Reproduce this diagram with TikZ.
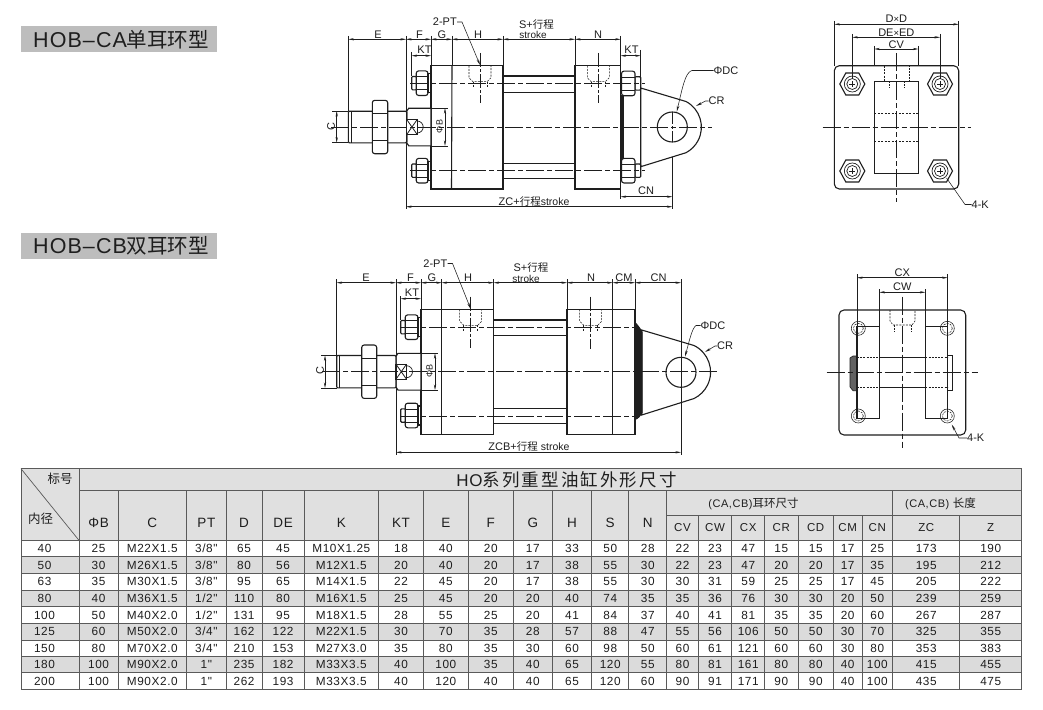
\documentclass[tikz,border=0pt]{standalone}
\usepackage{fontspec}
\setmainfont{Liberation Sans}
\newfontfamily\spf[LetterSpace=5]{Liberation Sans}
\newfontfamily\cjk{Noto Sans CJK SC}
\newfontfamily\cjkw[LetterSpace=12]{Noto Sans CJK SC}
\usetikzlibrary{arrows.meta,calc}
\definecolor{tgray}{HTML}{E0E0E0}
\definecolor{rgray}{HTML}{DBDBDB}
\definecolor{bargray}{HTML}{BDBDBD}
\definecolor{tline}{HTML}{5A5A5A}
\definecolor{ink}{HTML}{1E1E1E}
\tikzset{
  part/.style={draw=ink,line width=1.1pt,fill=white},
  heavy/.style={draw=ink,line width=1.1pt},
  thinl/.style={draw=ink,line width=0.45pt},
  centre/.style={draw=ink,line width=0.5pt,dash pattern=on 18pt off 3pt on 5pt off 3pt},
  hidden/.style={draw=ink,line width=0.55pt,dash pattern=on 2pt off 1.2pt},
  dimn/.style={draw=ink,line width=0.45pt,{Stealth[length=5.5pt,width=2.2pt]}-{Stealth[length=5.5pt,width=2.2pt]}},
  lead/.style={draw=ink,line width=0.55pt,-{Stealth[length=6pt,width=2.4pt]}},
  lbl/.style={inner sep=0pt,font=\fontsize{11}{11}\selectfont,text=ink},
  small/.style={inner sep=0pt,font=\fontsize{10}{10}\selectfont,text=ink},
  cell/.style={inner sep=0pt,text height=8.3pt,text depth=0pt,anchor=center,font=\spf\fontsize{11.8}{11}\selectfont,text=ink},
  head/.style={inner sep=0pt,anchor=center,font=\spf\fontsize{13.5}{13}\selectfont,text=ink},
  sub/.style={inner sep=0pt,anchor=center,font=\spf\fontsize{11.5}{12}\selectfont,text=ink},
  banner/.style={fill=bargray,draw=none},
  tl/.style={draw=tline,line width=0.7pt}
}
% hex nut in side view: #1 left x, #2 right x, #3 centre y, #4 half height, #5 inner half height
\newcommand{\sidenut}[5]{
  \draw[part,rounded corners=2.5pt] (#1,#3-#4) rectangle (#2,#3+#4);
  \draw[heavy,line width=0.8pt] (#1,#3-#5) -- (#2,#3-#5) (#1,#3+#5) -- (#2,#3+#5);
}
% bolt head of the left side: #1 left x, #2 block x, #3 centre y
\newcommand{\leftbolt}[3]{
  \draw[part,rounded corners=1pt] (#1,#3-6.7) rectangle (#1+5,#3+6.7);
  \sidenut{#1+4.5}{#2-3}{#3}{12.3}{6.5}
  \draw[part] (#2-3,#3-9.5) rectangle (#2,#3+9.5);
}
% nut of the right side, with the bolt end
\newcommand{\rightbolt}[1]{
  \draw[part,rounded corners=1pt] (635,#1-6.7) rectangle (640.7,#1+6.7);
  \sidenut{621.5}{635}{#1}{12.3}{6.5}
}
% rod end with lock nut: #1 thread left, #2 nut left, #3 nut right, #4 neck left, #5 block x, #6 centre y, #7 half thread, #8 half nut, #9 half neck
\newcommand{\rodend}[9]{
  \draw[part] (#4+2,#6-#9) -- (#5,#6-#9) -- (#5,#6+#9) -- (#4+2,#6+#9) -- (#4,#6+#9-3) -- (#4,#6-#9+3) -- cycle;
  \draw[part,rounded corners=1pt] (#1,#6-#7) rectangle (#4,#6+#7);
  \draw[heavy,line width=0.7pt] (#1+2.8,#6-#7) -- (#1+2.8,#6+#7);
  \sidenut{#2}{#3}{#6}{#8}{0.5*#8}
  \draw[part] (#4,#6-7.5) rectangle (#4+10.5,#6+7.5);
  \draw[heavy,line width=0.8pt] (#4,#6-7.5) -- (#4+10.5,#6+7.5) (#4,#6+7.5) -- (#4+10.5,#6-7.5);
  \draw[heavy,line width=0.7pt] (#4+10.5,#6-6) arc[start angle=-90,end angle=90,radius=6];
}
% end-view bolt
\newcommand{\hexbolt}[3]{
  \begin{scope}[shift={(#1,#2)}]
    \draw[part] (-12.5,0) -- (-6.5,-11) -- (6.5,-11) -- (12.5,0) -- (6.5,11) -- (-6.5,11) -- cycle;
    \draw[heavy,line width=0.7pt] (0,0) circle (8);
    \draw[heavy,line width=0.7pt] (0,0) circle (#3);
    \draw[thinl] (-3,0) -- (3,0) (0,-3) -- (0,3);
  \end{scope}
}
% tapped port, hidden lines
\newcommand{\portshape}[2]{
  \draw[hidden] (#1-11,#2) -- (#1-11,#2+12) -- (#1-7,#2+16) -- (#1+7,#2+16) -- (#1+11,#2+12) -- (#1+11,#2);
  \draw[hidden] (#1-7,#2+16) -- (#1-7,#2+22) (#1+7,#2+16) -- (#1+7,#2+22);
}
\begin{document}
\begin{tikzpicture}[x=1pt,y=-1pt]
\useasboundingbox (0,0) rectangle (1043,709);
\fill[white] (0,0) rectangle (1043,709);

% ---------- section titles
\fill[banner] (21,26) rectangle (217,52);
\node[inner sep=0pt,anchor=west,text=ink] (titleA) at (33,39.5) {\spf\fontsize{21.5}{21}\selectfont HOB–CA{\cjk\fontsize{20.5}{20}\selectfont 单耳环型}};
\fill[banner] (21,232.5) rectangle (217,259.3);
\node[inner sep=0pt,anchor=west,text=ink] (titleB) at (33,246) {\spf\fontsize{21.5}{21}\selectfont HOB–CB{\cjk\fontsize{20.5}{20}\selectfont 双耳环型}};

% ========== CA side view
\begin{scope}
  % extension lines
  \draw[thinl] (348.3,36) -- (348.3,111) (406,36) -- (406,209) (431,36) -- (431,66) (452,36) -- (452,66)
    (503,36) -- (503,66) (575,36) -- (575,66) (620.7,36) -- (620.7,66) (411.7,52) -- (411.7,76)
    (640.7,50) -- (640.7,78) (620.7,189) -- (620.7,199) (672.3,127) -- (672.3,209);
  % rods
  \draw[part] (503,76) rectangle (575,92.7);
  \draw[part] (503,163.3) rectangle (575,178.3);
  % clevis
  \draw[part] (640.7,88) -- (686,101.5) arc[start angle=-62,end angle=62,radius=29] -- (640.7,166.7) -- cycle;
  \draw[heavy] (672.3,127) circle (15);
  % black bar
  \fill[ink] (620.7,95) rectangle (624,160);
  % blocks
  \draw[part] (431,65.7) rectangle (503,189);
  \draw[heavy] (452,65.7) -- (451.5,189);
  \draw[part] (575,65.7) rectangle (620.7,189);
  % bolts
  \rightbolt{83.4}
  \rightbolt{170.7}
  \leftbolt{411.7}{431}{83.2}
  \leftbolt{411.7}{431}{170.7}
  % rod end
  \rodend{348.3}{372.3}{387.7}{406.7}{431}{127}{15.8}{26.7}{18.8}
  % centre lines
  \draw[centre] (331,127) -- (712,127);
  \draw[centre] (410,83.3) -- (645,83.3);
  \draw[centre] (410,170.7) -- (645,170.7);
  \draw[centre,dash pattern=on 14pt off 2pt on 3pt off 2pt] (480,53) -- (480,103);
  \draw[centre,dash pattern=on 14pt off 2pt on 3pt off 2pt] (598.3,53) -- (598.3,103);
  \draw[centre,dash pattern=on 12pt off 2pt on 3pt off 2pt] (672.3,112) -- (672.3,142);
  \portshape{480}{65.7}
  \portshape{598.3}{65.7}
  % C and phi-B dimensions
  \draw[thinl] (332,111) -- (348.3,111) (332,142.7) -- (348.3,142.7);
  \draw[dimn] (336.7,111) -- (336.7,142.7);
  \node[lbl,rotate=90] (caC) at (331,126.5) {C};
  \draw[thinl] (431,108.2) -- (448,108.2) (431,145.8) -- (448,145.8);
  \draw[dimn] (445,108.2) -- (445,145.8);
  \node[small,font=\fontsize{9}{9}\selectfont,rotate=90] (caB) at (439.5,126.5) {ΦB};
  % dimension chain
  \draw[dimn] (348.3,39.3) -- (406,39.3);
  \draw[dimn] (406,39.3) -- (431,39.3);
  \draw[dimn] (431,39.3) -- (452,39.3);
  \draw[dimn] (452,39.3) -- (503,39.3);
  \draw[dimn] (503,39.3) -- (575,39.3);
  \draw[dimn] (575,39.3) -- (620.7,39.3);
  \draw[dimn] (411.7,55.7) -- (431,55.7);
  \draw[dimn] (620.7,55.7) -- (640.7,55.7);
  \draw[dimn] (620.7,196.7) -- (672.3,196.7);
  \draw[dimn] (406,206.7) -- (672.3,206.7);
  \node[lbl] (caE) at (378,34.5) {E};
  \node[lbl] (caF) at (419.5,34.5) {F};
  \node[lbl] (caG) at (442,34.5) {G};
  \node[lbl] (caH) at (478,34.5) {H};
  \node[lbl] (caS) at (536.5,24.5) {S+{\cjk\fontsize{10.5}{10}\selectfont 行程}};
  \node[small] (caSt) at (533,35) {stroke};
  \node[lbl] (caN) at (598,34.5) {N};
  \node[lbl] (caKT) at (424.5,49.5) {KT};
  \node[lbl] (caKT2) at (631.5,49.5) {KT};
  \node[lbl] (caCN) at (646,191) {CN};
  \node[lbl,anchor=center] (caZC) at (534,201.5) {ZC+{\cjk\fontsize{10.5}{10}\selectfont 行程}{\fontsize{10.5}{10}\selectfont stroke}};
  \node[lbl,anchor=east] (caPT) at (457,22) {2-PT};
  \draw[lead] (caPT.east) -- ++(5,0) -- (480,65);
  \node[lbl,anchor=west] (caDC) at (713.5,70.5) {ΦDC};
  \draw[lead] (caDC.west) -- (692,70.5) .. controls (685,72) and (682,90) .. (676.7,111.7);
  \node[lbl,anchor=west] (caCR) at (708.5,101) {CR};
  \draw[lead] (caCR.west) -- ++(-3,0) -- (696,106);
\end{scope}

% ========== CA end view
\begin{scope}
  \draw[thinl] (834.3,21) -- (834.3,66) (958.7,21) -- (958.7,66) (852.3,34) -- (852.3,66) (940,34) -- (940,66)
    (874.3,46) -- (874.3,82) (918.3,46) -- (918.3,82);
  \draw[part,rounded corners=5pt] (834.3,65.7) rectangle (958.7,189);
  \draw[part] (874.3,81.7) rectangle (918.3,173.3);
  \draw[hidden] (884.3,66) -- (884.3,81) -- (909,81) -- (909,66) (889,81) -- (889,88) (904,81) -- (904,88);
  \draw[hidden,dash pattern=on 2pt off 1.5pt] (874.3,113.3) -- (918.3,113.3) (874.3,141.7) -- (918.3,141.7);
  \hexbolt{852.3}{84}{5.5}
  \hexbolt{940}{84}{5.5}
  \hexbolt{852.3}{171}{5.5}
  \hexbolt{940}{171}{5.5}
  \draw[thinl] (852.3,60) -- (852.3,79) (940,60) -- (940,79);
  \draw[centre] (822.7,127) -- (970.7,127);
  \draw[centre] (896.3,53.3) -- (896.3,201.7);
  \draw[dimn] (834.3,24.3) -- (958.7,24.3);
  \draw[dimn] (852.3,37.3) -- (940,37.3);
  \draw[dimn] (874.3,49) -- (918.3,49);
  \node[lbl] (caDD) at (896.3,19) {D{\fontsize{9.5}{9}\selectfont ×}D};
  \node[lbl] (caDE) at (896.3,32.3) {DE{\fontsize{9.5}{9}\selectfont ×}ED};
  \node[lbl] (caCV) at (896.3,44.5) {CV};
  \node[lbl,anchor=west] (ca4K) at (971.5,204.5) {4-K};
  \draw[lead,-] (ca4K.west) -- (965,204.5) -- (946.5,178);
\end{scope}

% ========== CB side view
\begin{scope}
  \draw[thinl] (336.7,279) -- (336.7,355) (396,279) -- (396,455) (421,279) -- (421,310) (441.7,279) -- (441.7,310)
    (493.7,279) -- (493.7,310) (567,279) -- (567,310) (612.7,279) -- (612.7,310) (635,279) -- (635,310)
    (681,279) -- (681,455) (400.7,296) -- (400.7,320);
  % rods
  \draw[part] (493.7,320) rectangle (567,335.3);
  \draw[part] (493.7,408.3) rectangle (567,423.7);
  % clevis
  \draw[part] (641.7,330) -- (694,345.5) arc[start angle=-64,end angle=64,radius=29.5] -- (641.7,415) -- cycle;
  \draw[thinl] (681,279) -- (681,455);
  \draw[heavy] (681,372.3) circle (15);
  % black taper
  \fill[ink] (635,321.7) .. controls (639,326) and (641,329) .. (642.5,332) -- (642.5,413) .. controls (641,415) and (639,419) .. (635,420) -- cycle;
  % blocks
  \draw[part] (421,309.3) rectangle (493.7,434.3);
  \draw[heavy] (441.7,309.3) -- (441.7,434.3);
  \draw[part] (567,309.3) rectangle (635,434.3);
  \draw[heavy] (612.7,309.3) -- (612.7,434.3);
  % bolts
  \leftbolt{400.7}{421}{327.2}
  \leftbolt{400.7}{421}{415.5}
  % rod end
  \rodend{336.7}{361.7}{376.7}{396}{421}{371.7}{16.2}{26.7}{18.4}
  % centre lines
  \draw[centre] (322,371.7) -- (718,371.7);
  \draw[centre] (400,327.3) -- (636.7,327.3);
  \draw[centre] (400,416) -- (636.7,416);
  \draw[centre,dash pattern=on 14pt off 2pt on 3pt off 2pt] (470.7,296.7) -- (470.7,348);
  \draw[centre,dash pattern=on 14pt off 2pt on 3pt off 2pt] (590.7,296.7) -- (590.7,349);
  \portshape{470.7}{309.3}
  \portshape{590.7}{309.3}
  % C and phi-B
  \draw[thinl] (321,355.5) -- (336.7,355.5) (321,387.9) -- (336.7,387.9);
  \draw[dimn] (325,355.5) -- (325,387.9);
  \node[lbl,rotate=90] (cbC) at (320,371) {C};
  \draw[thinl] (421,353.3) -- (438,353.3) (421,390) -- (438,390);
  \draw[dimn] (435,353.3) -- (435,390);
  \node[small,font=\fontsize{9}{9}\selectfont,rotate=90] (cbB) at (429.5,371) {ΦB};
  % dimension chain
  \draw[dimn] (336.7,282.7) -- (396,282.7);
  \draw[dimn] (396,282.7) -- (421,282.7);
  \draw[dimn] (421,282.7) -- (441.7,282.7);
  \draw[dimn] (441.7,282.7) -- (493.7,282.7);
  \draw[dimn] (493.7,282.7) -- (567,282.7);
  \draw[dimn] (567,282.7) -- (612.7,282.7);
  \draw[dimn] (612.7,282.7) -- (635,282.7);
  \draw[dimn] (635,282.7) -- (681,282.7);
  \draw[dimn] (400.7,298.7) -- (421,298.7);
  \draw[dimn] (396,452.3) -- (681,452.3);
  \node[lbl] (cbE) at (366,278) {E};
  \node[lbl] (cbF) at (410.5,278) {F};
  \node[lbl] (cbG) at (432,278) {G};
  \node[lbl] (cbH) at (468,278) {H};
  \node[lbl] (cbS) at (531,267.5) {S+{\cjk\fontsize{10.5}{10}\selectfont 行程}};
  \node[small] (cbSt) at (526,279) {stroke};
  \node[lbl] (cbN) at (591,278) {N};
  \node[lbl] (cbCM) at (624,278) {CM};
  \node[lbl] (cbCN) at (658.5,278) {CN};
  \node[lbl] (cbKT) at (412,293) {KT};
  \node[lbl,anchor=center] (cbZ) at (529,447) {ZCB+{\cjk\fontsize{10.5}{10}\selectfont 行程} {\fontsize{10.5}{10}\selectfont stroke}};
  \node[lbl,anchor=east] (cbPT) at (447.5,263.5) {2-PT};
  \draw[lead] (cbPT.east) -- ++(5,0) -- (470.7,309);
  \node[lbl,anchor=west] (cbDC) at (700.5,325.5) {ΦDC};
  \draw[lead] (cbDC.west) -- (696,325.5) .. controls (692,328) and (689,342) .. (685,356.7);
  \node[lbl,anchor=west] (cbCR) at (717,346) {CR};
  \draw[lead] (cbCR.west) -- ++(-2,0) -- (705,352);
\end{scope}

% ========== CB end view
\begin{scope}
  \draw[part,rounded corners=5pt] (839,310) rectangle (965.7,435);
  \draw[heavy,line width=0.55pt] (858.3,328.3) circle (7) (947.3,328.3) circle (7) (858.3,416) circle (7) (947.3,416) circle (7);
  \draw[hidden] (858.3,328.3) circle (5) (947.3,328.3) circle (5) (858.3,416) circle (5) (947.3,416) circle (5);
  \fill[ink!70] (850,358) -- (853,356) -- (857,356) -- (857,390.7) -- (853,390.7) -- (850,387) -- cycle;
  \draw[heavy,line width=0.6pt] (850,358) -- (853,356) -- (857,356) -- (857,390.7) -- (853,390.7) -- (850,387) -- cycle;
  \draw[heavy,line width=0.6pt] (947.7,355) rectangle (952.7,390.7);
  \draw[heavy] (864,326.7) -- (857,326.7) -- (857,418.3) -- (879.3,418.3) -- (879.3,326.7) -- (864,326.7);
  \draw[heavy] (940,326.7) -- (947.7,326.7) -- (947.7,418.3) -- (925.3,418.3) -- (925.3,326.7) -- (940,326.7);
  \draw[heavy] (879.3,357.7) -- (925.3,357.7) (879.3,387.3) -- (925.3,387.3);
  \draw[hidden] (857,357.7) -- (879.3,357.7) (925.3,357.7) -- (947.7,357.7) (857,387.3) -- (879.3,387.3) (925.3,387.3) -- (947.7,387.3);
  \draw[hidden] (890,310) -- (890,321) -- (893,325) -- (912,325) -- (915,321) -- (915,310);
  \draw[hidden] (894,325) -- (894,332) (911,325) -- (911,332);
  \draw[thinl] (857,274) -- (857,327) (947.7,274) -- (947.7,327) (879.3,289) -- (879.3,327) (925.3,289) -- (925.3,327);
  \draw[centre] (826.7,372.3) -- (977.7,372.3);
  \draw[centre] (902.3,296.7) -- (902.3,448.3);
  \draw[dimn] (857,277.7) -- (947.7,277.7);
  \draw[dimn] (879.3,292.3) -- (925.3,292.3);
  \node[lbl] (cbCX) at (902.3,272.5) {CX};
  \node[lbl] (cbCW) at (902.3,286.5) {CW};
  \node[lbl,anchor=west] (cb4K) at (967,438) {4-K};
  \draw[lead] (cb4K.west) -- (959,438) -- (951.7,424.5);
\end{scope}

% ========== table
\fill[tgray] (21,468.7) rectangle (1021.7,540.7);
\foreach \ya/\yb in {556.7/573.3,590/606.7,623.3/640,656.7/672.7}
  \fill[rgray] (21,\ya) rectangle (1021.7,\yb);
% outer and horizontal rules
\draw[tl,line width=0.9pt] (21,468.7) rectangle (1021.7,689.3);
\draw[tl] (79.3,490.7) -- (1021.7,490.7);
\draw[tl] (666.7,515) -- (1021.7,515);
\draw[tl] (21,540.7) -- (1021.7,540.7);
\foreach \y in {556.7,573.3,590,606.7,623.3,640,656.7,672.7}
  \draw[tl,line width=0.8pt] (21,\y) -- (1021.7,\y);
% vertical rules
\draw[tl] (79.3,468.7) -- (79.3,689.3);
\foreach \x in {118,186.7,226,262.3,304,378.7,423.3,468.3,513.3,552.3,591.7,628.7,666.7,892.7}
  \draw[tl] (\x,490.7) -- (\x,689.3);
\foreach \x in {698.3,731.7,764.7,798,833.3,862,959.7}
  \draw[tl] (\x,515) -- (\x,689.3);
\draw[tl] (21,468.7) -- (79.3,540.7);
% header text
\node[inner sep=0pt,text=ink] (hTitle) at (566.5,480) {\spf\fontsize{17}{17}\selectfont HO{\cjkw\fontsize{17.5}{17}\selectfont 系列重型油缸外形尺寸}};
\node[head,font=\cjk\fontsize{12.5}{13}\selectfont] (hBiao) at (60,479) {标号};
\node[head,font=\cjk\fontsize{12.5}{13}\selectfont] (hNei) at (40.5,519) {内径};
\foreach \t/\cx [count=\i] in {ΦB/98.6,C/152.3,PT/206.3,D/244.1,DE/283.1,K/341.3,KT/401,E/445.8,F/490.8,G/532.8,H/572,S/610.2,N/647.7}
  \node[head] (h\i) at (\cx,522.5) {\t};
\node[sub,font=\spf\fontsize{11}{12}\selectfont] (hEar) at (753.5,504) {(CA,CB){\cjk\fontsize{11.5}{12}\selectfont 耳环尺寸}};
\node[sub,font=\spf\fontsize{11}{12}\selectfont] (hLen) at (940.5,504) {(CA,CB) {\cjk\fontsize{11.5}{12}\selectfont 长度}};
\foreach \t/\cx [count=\i] in {CV/682.5,CW/715,CX/748.2,CR/781.3,CD/815.7,CM/847.6,CN/877.3,ZC/926.2,Z/990.7}
  \node[sub] (s\i) at (\cx,528) {\t};
% data rows
\foreach \yc/\vals [count=\r] in {
 548.7/{40,25,M22X1.5,3/8",65,45,M10X1.25,18,40,20,17,33,50,28,22,23,47,15,15,17,25,173,190},
 565/{50,30,M26X1.5,3/8",80,56,M12X1.5,20,40,20,17,38,55,30,22,23,47,20,20,17,35,195,212},
 581.7/{63,35,M30X1.5,3/8",95,65,M14X1.5,22,45,20,17,38,55,30,30,31,59,25,25,17,45,205,222},
 598.3/{80,40,M36X1.5,1/2",110,80,M16X1.5,25,45,20,20,40,74,35,35,36,76,30,30,20,50,239,259},
 615/{100,50,M40X2.0,1/2",131,95,M18X1.5,28,55,25,20,41,84,37,40,41,81,35,35,20,60,267,287},
 631.7/{125,60,M50X2.0,3/4",162,122,M22X1.5,30,70,35,28,57,88,47,55,56,106,50,50,30,70,325,355},
 648.3/{150,80,M70X2.0,3/4",210,153,M27X3.0,35,80,35,30,60,98,50,60,61,121,60,60,30,80,353,383},
 664.7/{180,100,M90X2.0,1",235,182,M33X3.5,40,100,35,40,65,120,55,80,81,161,80,80,40,100,415,455},
 681/{200,100,M90X2.0,1",262,193,M33X3.5,40,120,40,40,65,120,60,90,91,171,90,90,40,100,435,475}} {
  \foreach \v [count=\i] in \vals {
    \pgfmathsetmacro{\cx}{{44.5,98.6,152.3,206.3,244.1,283.1,341.3,401,445.8,490.8,532.8,572,610.2,647.7,682.5,715,748.2,781.3,815.7,847.6,877.3,926.2,990.7}[\i-1]}
    \node[cell] (r\r c\i) at (\cx,\yc) {\v};
  }
}
\end{tikzpicture}
\end{document}
